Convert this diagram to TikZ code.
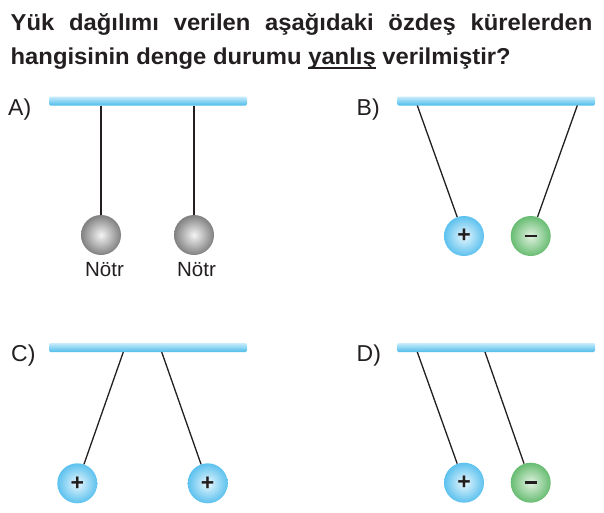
\documentclass[tikz,border=0pt]{standalone}
\usepackage{fontspec}
\setmainfont{Liberation Sans}
\usepackage{graphicx}
\definecolor{ink}{RGB}{35,31,32}
\definecolor{barTop}{RGB}{200,236,251}
\definecolor{barBot}{RGB}{78,188,234}
\definecolor{posOut}{RGB}{92,193,238}
\definecolor{posIn}{RGB}{232,247,254}
\definecolor{negOut}{RGB}{104,188,114}
\definecolor{negIn}{RGB}{224,242,224}
\definecolor{neuOut}{RGB}{128,128,128}
\definecolor{neuIn}{RGB}{244,244,244}
\newsavebox\ulbox
\newcommand\ulmark[1]{\sbox\ulbox{#1}\rlap{\rule[-4.5pt]{\wd\ulbox}{1.8pt}}\usebox\ulbox}
\newcommand\minussign{\rule[-1.3pt]{12pt}{2.6pt}}
\begin{document}
\begin{tikzpicture}[x=1pt,y=-1pt,
  barshade/.style={top color=barTop,bottom color=barBot,draw=none,rounded corners=1.5pt},
  ballbase/.style={circle,minimum size=40pt,inner sep=0pt,text=ink,font=\fontsize{23}{23}\bfseries},
  posball/.style={ballbase,inner color=posIn,outer color=posOut},
  negball/.style={ballbase,inner color=negIn,outer color=negOut},
  neuball/.style={ballbase,inner color=neuIn,outer color=neuOut},
  thread/.style={draw=ink,line width=1.3pt},
  optlabel/.style={anchor=base west,inner sep=0pt,text=ink,font=\fontsize{23}{23}\selectfont},
  captext/.style={anchor=base,inner sep=0pt,text=ink,font=\fontsize{20.5}{20}\selectfont},
  titletext/.style={anchor=base west,inner sep=0pt,text=ink,font=\fontsize{23}{23}\bfseries}
  ]
\useasboundingbox (0,0) rectangle (604,512);

% title
\node[titletext] (t1) at (10.5,30.7) {\scalebox{1.035}[1]{\makebox[562pt][s]{Yük dağılımı verilen aşağıdaki özdeş kürelerden}}};
\node[titletext] (t2) at (10.5,64.3) {\scalebox{1.035}[1]{hangisinin denge durumu \ulmark{yanlış}\ verilmiştir?}};

% option labels
\node[optlabel] (lA) at (8,115.5) {A)};
\node[optlabel] (lB) at (356.5,115.5) {B)};
\node[optlabel] (lC) at (11,361.8) {C)};
\node[optlabel] (lD) at (356.5,361.8) {D)};

% bars
\shade[barshade] (49,96.5) rectangle (247,105.5);
\shade[barshade] (397,96.5) rectangle (595,105.5);
\shade[barshade] (49,343) rectangle (247,352);
\shade[barshade] (397,343) rectangle (595,352);

% anchor points on bars
\coordinate (pA1) at (101,105.5);
\coordinate (pA2) at (194,105.5);
\coordinate (pB1) at (417.3,105.5);
\coordinate (pB2) at (577.3,105.5);
\coordinate (pC1) at (123.3,352);
\coordinate (pC2) at (161.7,352);
\coordinate (pD1) at (417.3,352);
\coordinate (pD2) at (485,352);

% balls
\node[neuball] (bA1) at (101,235) {};
\node[neuball] (bA2) at (194,235) {};
\node[posball] (bB1) at (464,236) {+};
\node[negball] (bB2) at (530.7,236) {\minussign};
\node[posball] (bC1) at (77.3,483.3) {+};
\node[posball] (bC2) at (207.7,483.3) {+};
\node[posball] (bD1) at (464,482.7) {+};
\node[negball] (bD2) at (530.7,482.7) {\minussign};

% threads
\draw[thread] (pA1) -- (bA1);
\draw[thread] (pA2) -- (bA2);
\draw[thread] (pB1) -- (bB1);
\draw[thread] (pB2) -- (bB2);
\draw[thread] (pC1) -- (bC1);
\draw[thread] (pC2) -- (bC2);
\draw[thread] (pD1) -- (bD1);
\draw[thread] (pD2) -- (bD2);

% captions
\node[captext] (nA1) at (104.5,276.7) {Nötr};
\node[captext] (nA2) at (196.5,276.7) {Nötr};
\end{tikzpicture}
\end{document}
